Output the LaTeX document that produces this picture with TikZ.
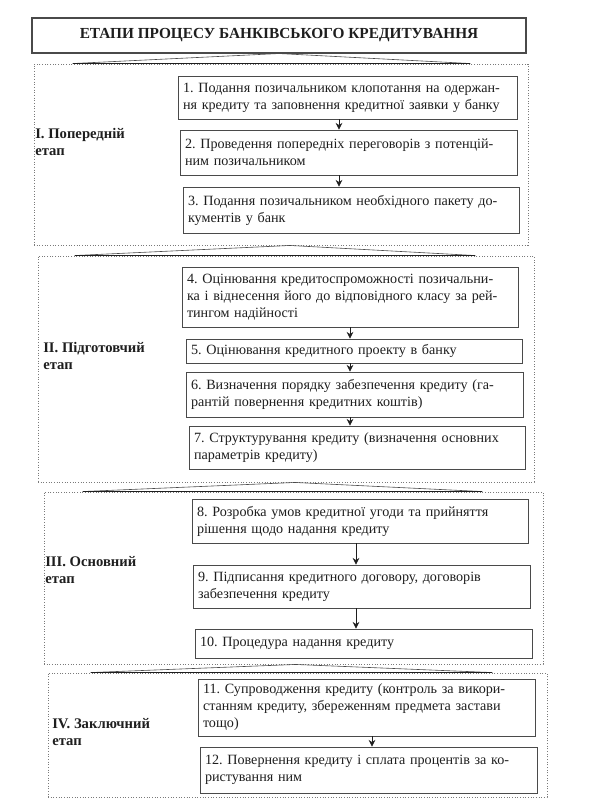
\documentclass[tikz,border=0pt]{standalone}
\usepackage{fontspec}
\setmainfont{Liberation Serif}
\usetikzlibrary{arrows.meta,calc}
\definecolor{ink}{HTML}{1E1E1E}
\definecolor{boxline}{HTML}{4A4A4A}
\definecolor{dotline}{HTML}{7A7A7A}
\newcommand\fl[1]{\makebox[\hsize][s]{#1}\\}
\newcommand\mkbox[6]{%
  \pgfmathsetmacro\bw{(#4-#2)*0.75-7.5}%
  \pgfmathsetmacro\bh{(#5-#3)*0.75}%
  \node[stepbox, text width=\bw pt, minimum height=\bh pt] (#1) at ({(#2+#4)/2},{(#3+#5)/2}) {\noindent\frenchspacing #6};}
\newcommand\mkstage[5]{%
  \pgfmathsetmacro\bw{(#4-#2)*0.75}%
  \pgfmathsetmacro\bh{(#5-#3)*0.75}%
  \node[stagebox, minimum width=\bw pt, minimum height=\bh pt] (#1) at ({(#2+#4)/2},{(#3+#5)/2}) {};}
\begin{document}
\begin{tikzpicture}[x=0.75pt,y=-0.75pt,
  stepbox/.style={draw=boxline, line width=0.6pt, inner xsep=3.75pt, inner ysep=1pt,
    font=\fontsize{10.6}{12.75}\selectfont, text=ink},
  stagebox/.style={draw=dotline, line width=0.7pt, dash pattern=on 0.8pt off 1.2pt, inner sep=0pt},
  titlebox/.style={draw=boxline, line width=0.8pt, inner sep=0pt,
    font=\fontsize{11.5}{13}\selectfont\bfseries, text=ink},
  stagelabel/.style={anchor=west, align=left, inner sep=0pt, text=ink,
    font=\fontsize{11}{12.75}\selectfont\bfseries},
  arr/.style={draw=ink, line width=0.5pt, -{Stealth[length=5pt,width=5pt,inset=1.6pt]}},
  tri/.style={draw=boxline, line width=0.45pt, line join=miter},
  triBase/.style={draw=ink, line width=1.1pt}
]
\useasboundingbox[fill=white] (0,0) rectangle (600,808);

% title
\node[titlebox, minimum width=370.5pt, minimum height=26.25pt] (title) at (279,35.5)
  {ЕТАПИ ПРОЦЕСУ БАНКІВСЬКОГО КРЕДИТУВАННЯ};

% stage containers
\mkstage{d1}{34}{64}{528}{245}
\mkstage{d2}{38}{256}{534}{482}
\mkstage{d3}{44}{492}{543}{664}
\mkstage{d4}{48}{673}{547}{797}

% stage labels
\node[stagelabel] (l1) at (35,141.5) {I. Попередній\\етап};
\node[stagelabel] (l2) at (43,356) {II. Підготовчий\\етап};
\node[stagelabel] (l3) at (45,570.5) {III. Основний\\етап};
\node[stagelabel] (l4) at (52,732.5) {IV. Заключний\\етап};

% step boxes
\mkbox{b1}{178}{76}{517}{119}{\fl{1. Подання позичальником клопотання на одержан-}\mbox{ня кредиту та заповнення кредитної заявки у банку}}
\mkbox{b2}{180}{130}{517}{175}{\fl{2. Проведення попередніх переговорів з потенцій-}\mbox{ним позичальником}}
\mkbox{b3}{183}{187}{519}{233}{\fl{3. Подання позичальником необхідного пакету до-}\mbox{кументів у банк}}

\mkbox{b4}{182}{267}{518}{327}{\fl{4. Оцінювання кредитоспроможності позичальни-}\fl{ка і віднесення його до відповідного класу за рей-}\mbox{тингом надійності}}
\mkbox{b5}{186}{339}{522}{363}{\mbox{5. Оцінювання кредитного проекту в банку}}
\mkbox{b6}{186}{372}{523}{417}{\fl{6. Визначення порядку забезпечення кредиту (га-}\mbox{рантій повернення кредитних коштів)}}
\mkbox{b7}{189}{426}{525}{469}{\fl{7. Структурування кредиту (визначення основних}\mbox{параметрів кредиту)}}

\mkbox{b8}{192}{499}{528}{543}{\fl{8. Розробка умов кредитної угоди та прийняття}\mbox{рішення щодо надання кредиту}}
\mkbox{b9}{193}{565}{530}{608}{\fl{9. Підписання кредитного договору, договорів}\mbox{забезпечення кредиту}}
\mkbox{b10}{195}{629}{532}{658}{\mbox{10. Процедура надання кредиту}}

\mkbox{b11}{198}{679}{535}{736}{\fl{11. Супроводження кредиту (контроль за викори-}\fl{станням кредиту, збереженням предмета застави}\mbox{тощо)}}
\mkbox{b12}{200}{747}{537}{793}{\fl{12. Повернення кредиту і сплата процентів за ко-}\mbox{ристування ним}}

% arrow columns
\coordinate (ax1) at (339,0);
\coordinate (ax2) at (350,0);
\coordinate (ax3) at (356,0);
\coordinate (ax4) at (372,0);

\draw[arr] (b1.south -| ax1) -- (b2.north -| ax1);
\draw[arr] (b2.south -| ax1) -- (b3.north -| ax1);
\draw[arr] (b4.south -| ax2) -- (b5.north -| ax2);
\draw[arr] (b5.south -| ax2) -- (b6.north -| ax2);
\draw[arr] (b6.south -| ax2) -- (b7.north -| ax2);
\draw[arr] (b8.south -| ax3) -- (b9.north -| ax3);
\draw[arr] (b9.south -| ax3) -- (b10.north -| ax3);
\draw[arr] (b11.south -| ax4) -- (b12.north -| ax4);

% wide chevrons linking the stages
\draw[tri] ($(d1.north west)+(39,0)$) -- (title.south) -- ($(d1.north east)+(-58,0)$);
\draw[triBase] ($(d1.north west)+(39,0)$) -- ($(d1.north east)+(-58,0)$);
\draw[tri] ($(d2.north west)+(37,0)$) -- ($(d1.south)+(9,0)$) -- ($(d2.north east)+(-59,0)$);
\draw[triBase] ($(d2.north west)+(37,0)$) -- ($(d2.north east)+(-59,0)$);
\draw[tri] ($(d3.north west)+(39,0)$) -- ($(d2.south)+(9,0)$) -- ($(d3.north east)+(-61,0)$);
\draw[triBase] ($(d3.north west)+(39,0)$) -- ($(d3.north east)+(-61,0)$);
\draw[tri] ($(d4.north west)+(43,0)$) -- ($(d3.south)+(2,0)$) -- ($(d4.north east)+(-55,0)$);
\draw[triBase] ($(d4.north west)+(43,0)$) -- ($(d4.north east)+(-55,0)$);
\end{tikzpicture}
\end{document}
